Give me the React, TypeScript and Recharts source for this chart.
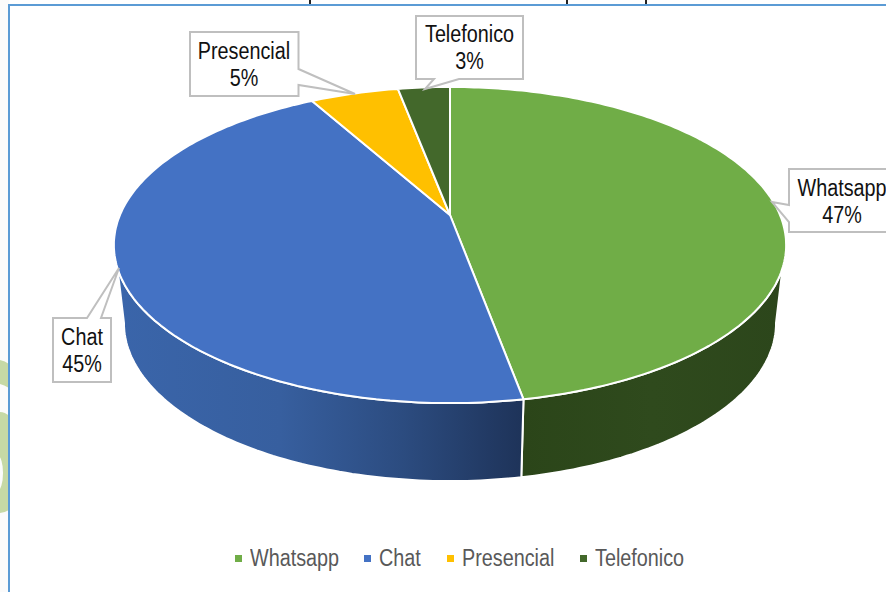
import { Legend, Pie, PieChart } from "recharts";

const channels = ["Whatsapp", "Chat", "Presencial", "Telefonico"];
const shares = [47.1, 44.8, 5.1, 3.0];
const sliceColors = ["#70ad47", "#4472c4", "#ffc000", "#43682b"];

const data = channels.map((name, i) => ({
  name,
  value: shares[i],
  fill: sliceColors[i],
}));

// tilt of the fake 3D disc
const PERSPECTIVE = 0.19;
const SQUASH = 0.4617;
const DEPTH = 78;
const BASE_SHRINK = 0.97;

// clockwise degrees from 12 o'clock where the side wall is visible
const WALL_TOP = [109, 251];
const WALL_BASE = [101, 259];

const wallStops: Record<string, [string, string][]> = {
  Whatsapp: [
    ["0%", "#2b4519"],
    ["50%", "#2f4a1d"],
    ["100%", "#2c461b"],
  ],
  Chat: [
    ["0%", "#3a65aa"],
    ["40%", "#375f9f"],
    ["70%", "#2c4c80"],
    ["100%", "#1e3359"],
  ],
};

const callouts = [
  { x: 789, y: 169, w: 110, h: 63, tip: [772, 202], base: [[789, 205], [789, 222]], tx: 842, ty: 196 },
  { x: 53, y: 318, w: 58, h: 64, tip: [119, 268], base: [[87, 318], [101, 318]], tx: 82, ty: 345 },
  { x: 190, y: 32, w: 108.5, h: 64, tip: [355, 94], base: [[298.5, 69], [298.5, 85]], tx: 244, ty: 59 },
  { x: 416, y: 16, w: 107, h: 63, tip: [425, 89], base: [[434, 79], [459, 79]], tx: 469.5, ty: 42 },
];

const legendLeft = [235, 364, 447, 580];

function project(cx: number, cy: number, r: number, deg: number) {
  const t = (deg * Math.PI) / 180;
  const u = Math.sin(t);
  const v = Math.cos(t);
  const k = 1 + PERSPECTIVE * v;
  return [cx + (r * u) / k, cy - (r * SQUASH * v) / k];
}

function arc(cx: number, cy: number, r: number, from: number, to: number) {
  const steps = Math.max(2, Math.ceil(Math.abs(to - from)));
  const pts: number[][] = [];
  for (let i = 0; i <= steps; i++) {
    pts.push(project(cx, cy, r, from + ((to - from) * i) / steps));
  }
  return pts;
}

const toPath = (pts: number[][]) =>
  "M" + pts.map((p) => `${p[0].toFixed(1)},${p[1].toFixed(1)}`).join("L") + "Z";

function DiscSlice(props: any) {
  const { cx, cy, outerRadius, startAngle, endAngle, fill, name } = props;
  const from = 90 - startAngle;
  const to = 90 - endAngle;

  const topLo = Math.max(from, WALL_TOP[0]);
  const topHi = Math.min(to, WALL_TOP[1]);
  const hasWall = topLo < topHi;
  let wall = "";
  if (hasWall) {
    const baseLo = from <= WALL_TOP[0] ? WALL_BASE[0] : from;
    const baseHi = to >= WALL_TOP[1] ? WALL_BASE[1] : to;
    const base = arc(cx, cy, outerRadius, baseHi, baseLo).map((p) => [
      cx + (p[0] - cx) * BASE_SHRINK,
      p[1] + DEPTH,
    ]);
    wall = toPath([...arc(cx, cy, outerRadius, topLo, topHi), ...base]);
  }
  const top = toPath([[cx, cy], ...arc(cx, cy, outerRadius, from, to)]);
  const gradId = `wall-${name}`;

  return (
    <g>
      {hasWall && (
        <defs>
          <linearGradient id={gradId} x1="0" y1="0" x2="1" y2="0">
            {(wallStops[name] || []).map(([offset, color]) => (
              <stop key={offset} offset={offset} stopColor={color} />
            ))}
          </linearGradient>
        </defs>
      )}
      {hasWall && (
        <path d={wall} fill={`url(#${gradId})`} stroke="#fff" strokeWidth={2} strokeLinejoin="round" />
      )}
      <path d={top} fill={fill} stroke="#fff" strokeWidth={2} strokeLinejoin="round" />
    </g>
  );
}

function Callout(props: any) {
  const { index, name, value } = props;
  const c = callouts[index];
  if (!c) return null;
  const right = c.x + c.w;
  const bottom = c.y + c.h;
  let outline: number[][];
  if (c.base[0][0] === c.base[1][0] && c.base[0][0] === c.x) {
    outline = [[c.x, c.y], [right, c.y], [right, bottom], [c.x, bottom], c.base[1], c.tip, c.base[0]];
  } else if (c.base[0][0] === c.base[1][0]) {
    outline = [[c.x, c.y], [right, c.y], c.base[0], c.tip, c.base[1], [right, bottom], [c.x, bottom]];
  } else if (c.base[0][1] === c.y) {
    outline = [[c.x, c.y], c.base[0], c.tip, c.base[1], [right, c.y], [right, bottom], [c.x, bottom]];
  } else {
    outline = [[c.x, c.y], [right, c.y], [right, bottom], c.base[1], c.tip, c.base[0], [c.x, bottom]];
  }
  return (
    <g>
      <path d={toPath(outline)} fill="#fff" stroke="#bfbfbf" strokeWidth={2} />
      <g
        fontFamily="Liberation Sans"
        fontSize={23}
        fill="#111"
        textAnchor="middle"
        transform={`translate(${c.tx} ${c.ty}) scale(0.86 1)`}
      >
        <text x={0} y={0}>{name}</text>
        <text x={0} y={27}>{Math.round(value)}%</text>
      </g>
    </g>
  );
}

function LegendRow({ payload }: any) {
  return (
    <div style={{ position: "relative", width: 886, height: 40 }}>
      {(payload || []).map((entry: any, i: number) => (
        <div key={entry.value}>
          <span
            style={{
              position: "absolute",
              left: legendLeft[i],
              top: 15,
              width: 7,
              height: 7,
              background: entry.color,
            }}
          />
          <span
            style={{
              position: "absolute",
              left: legendLeft[i] + 15,
              top: 5,
              fontFamily: "Liberation Sans",
              fontSize: 23,
              lineHeight: "27px",
              color: "#595959",
              whiteSpace: "nowrap",
              transform: "scaleX(0.86)",
              transformOrigin: "left center",
            }}
          >
            {entry.value}
          </span>
        </div>
      ))}
    </div>
  );
}

export default function App() {
  return (
    <div style={{ position: "absolute", left: 0, top: 0, width: 886, height: 592, overflow: "hidden", background: "#fff" }}>
      {/* bits of the page behind the pasted chart */}
      <svg width={886} height={592} style={{ position: "absolute", left: 0, top: 0 }}>
        <rect x={0} y={0} width={9} height={592} fill="#fbfbfb" />
        <path d="M0,360 Q5,361 9,364 L9,388 Q4,385 0,384Z" fill="#c6d9a5" />
        <path d="M0,412 Q5,412 9,416 L9,510 Q4,513 0,513Z" fill="#c6d9a5" />
        <ellipse cx={-2} cy={473} rx={5} ry={17} fill="#fbfbfb" />
        {[310, 567, 646].map((x) => (
          <rect key={x} x={x - 1} y={0} width={2} height={4} fill="#222" />
        ))}
      </svg>
      <div style={{ position: "absolute", left: 8, top: 4, right: -4, bottom: -4, border: "2px solid #5b9bd5", background: "#fff" }} />
      <div style={{ position: "absolute", left: 0, top: 0 }}>
        <PieChart width={886} height={592} margin={{ top: 0, right: 0, bottom: 0, left: 0 }}>
          <Pie
            data={data}
            dataKey="value"
            nameKey="name"
            cx={450}
            cy={215}
            outerRadius={330}
            startAngle={90}
            endAngle={-270}
            shape={DiscSlice}
            label={Callout}
            labelLine={false}
            isAnimationActive={false}
          />
          <Legend
            content={LegendRow}
            itemSorter={null}
            wrapperStyle={{ left: 0, top: 540, width: 886, height: 40 }}
          />
        </PieChart>
      </div>
    </div>
  );
}
